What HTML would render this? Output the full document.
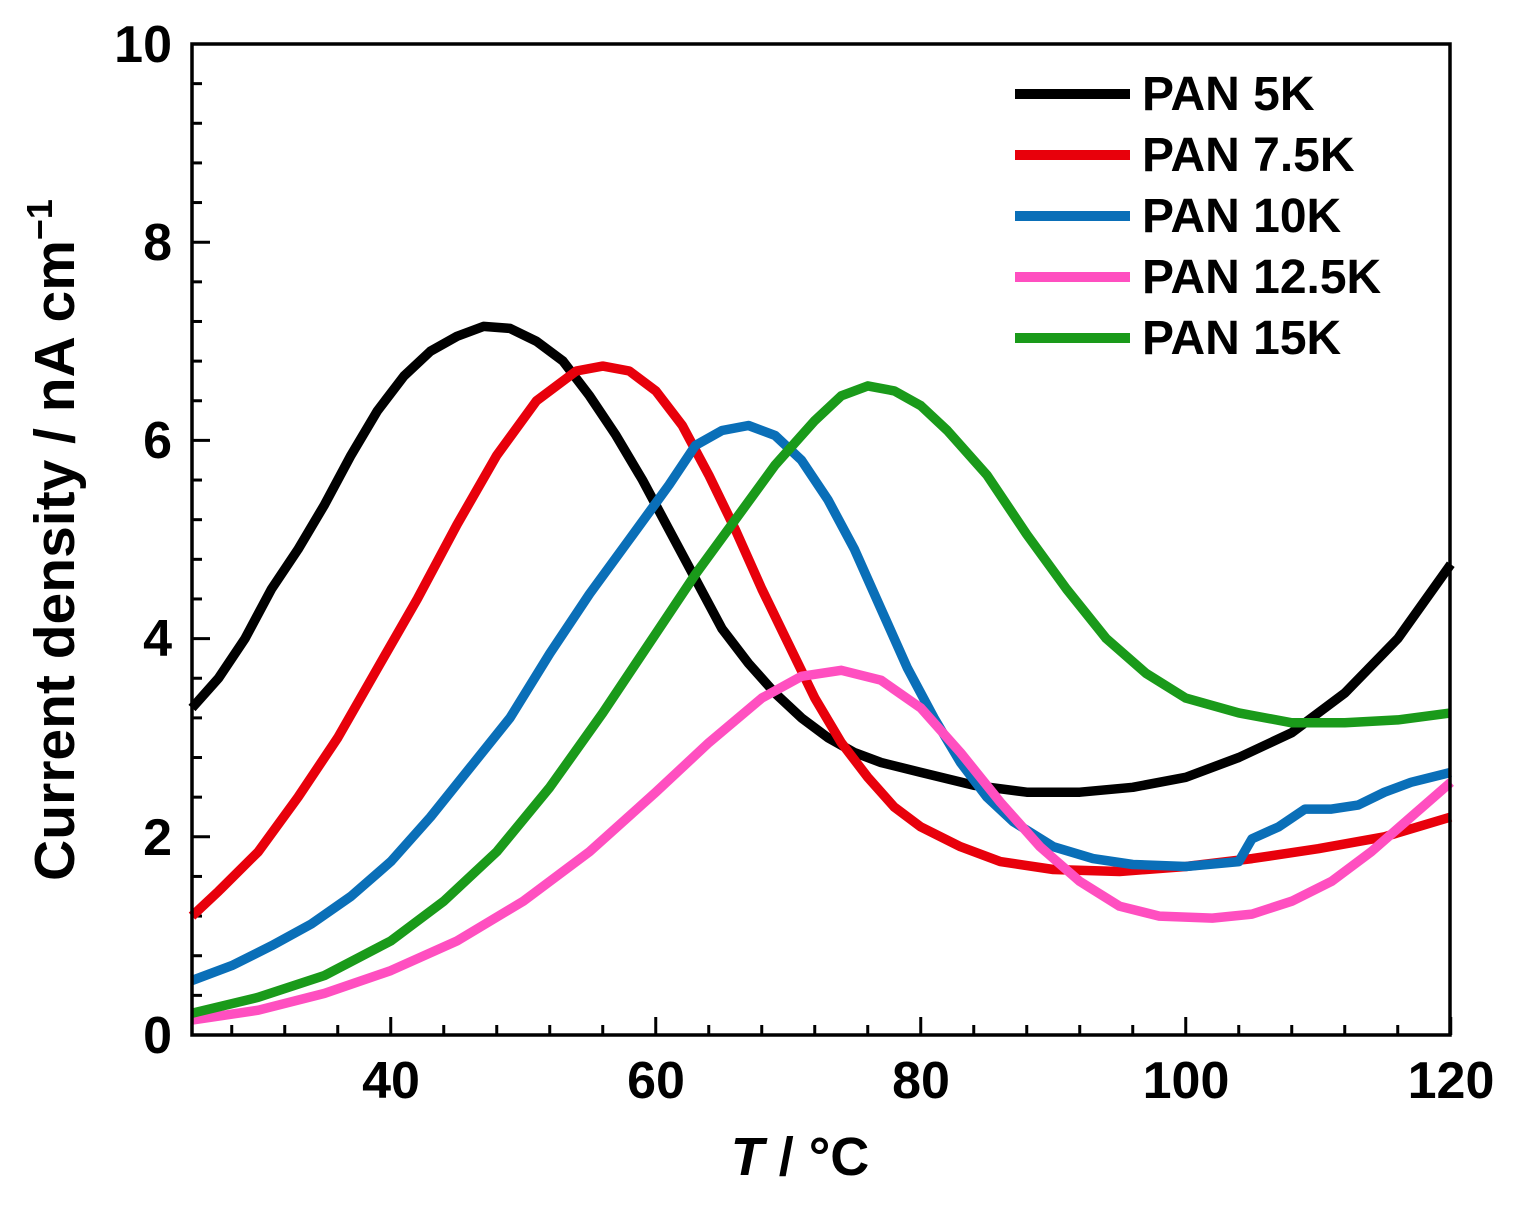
<!DOCTYPE html>
<html><head><style>body{margin:0;background:#fff}</style></head><body>
<svg id="s" width="1518" height="1204" xmlns="http://www.w3.org/2000/svg" font-family="Liberation Sans, Arial, sans-serif" font-weight="bold">
<g id="ticks" stroke="#000" stroke-width="3"></g>
<g id="lines" fill="none" stroke-width="9.5" stroke-linejoin="round"></g>
<rect x="192" y="44" width="1258" height="991" fill="none" stroke="#000" stroke-width="3.5"/>
<g font-size="52" text-anchor="end">
<text x="172" y="1053">0</text><text x="172" y="855">2</text><text x="172" y="656">4</text><text x="172" y="458">6</text><text x="172" y="260">8</text><text x="172" y="62">10</text>
</g>
<g font-size="52" text-anchor="middle">
<text x="391" y="1098">40</text><text x="656" y="1098">60</text><text x="921" y="1098">80</text><text x="1186" y="1098">100</text><text x="1451" y="1098">120</text>
</g>
<text x="800" y="1175" font-size="54" text-anchor="middle"><tspan font-style="italic">T</tspan> / °C</text>
<text transform="translate(74,540) rotate(-90)" font-size="57" text-anchor="middle">Current density / nA cm<tspan dy="-22" font-size="36">−1</tspan></text>
<g font-size="48" stroke-width="10">
<line x1="1015" y1="94" x2="1130" y2="94" stroke="#000"/><text x="1142" y="110">PAN 5K</text>
<line x1="1015" y1="155" x2="1130" y2="155" stroke="#e8000b"/><text x="1142" y="171">PAN 7.5K</text>
<line x1="1015" y1="216" x2="1130" y2="216" stroke="#0a6fb8"/><text x="1142" y="232">PAN 10K</text>
<line x1="1015" y1="277" x2="1130" y2="277" stroke="#ff4fc0"/><text x="1142" y="293">PAN 12.5K</text>
<line x1="1015" y1="338" x2="1130" y2="338" stroke="#1a9a1a"/><text x="1142" y="354">PAN 15K</text>
</g>
</svg>
<script>
const X=v=>192+(v-25)*13.25, Y=v=>1035-v*99.1;
const ns="http://www.w3.org/2000/svg";
const t=document.getElementById('ticks');
function L(g,a,b,c,d){const e=document.createElementNS(ns,'line');e.setAttribute('x1',a);e.setAttribute('y1',b);e.setAttribute('x2',c);e.setAttribute('y2',d);g.appendChild(e);}
for(let v=28;v<=120;v+=4){const maj=v%20==0;const x=X(v);L(t,x,1035,x,1035-(maj?18:10));}
for(let i=1;i<25;i++){const v=i*0.4;const maj=i%5==0;const y=Y(v);L(t,192,y,192+(maj?18:10),y);}
const D={
"#000":[[25,3.3],[27,3.6],[29,4.0],[31,4.5],[33,4.9],[35,5.35],[37,5.85],[39,6.3],[41,6.65],[43,6.9],[45,7.05],[47,7.15],[49,7.13],[51,7.0],[53,6.8],[55,6.45],[57,6.05],[59,5.6],[61,5.1],[63,4.6],[65,4.1],[67,3.75],[69,3.45],[71,3.2],[73,3.0],[75,2.85],[77,2.75],[80,2.65],[84,2.52],[88,2.45],[92,2.45],[96,2.5],[100,2.6],[104,2.8],[108,3.05],[112,3.45],[116,4.0],[120,4.75]],
"#e8000b":[[25,1.2],[27,1.45],[30,1.85],[33,2.4],[36,3.0],[39,3.7],[42,4.4],[45,5.15],[48,5.85],[51,6.4],[54,6.7],[56,6.75],[58,6.7],[60,6.5],[62,6.15],[64,5.65],[66,5.1],[68,4.5],[70,3.95],[72,3.4],[74,2.95],[76,2.6],[78,2.3],[80,2.1],[83,1.9],[86,1.75],[90,1.67],[95,1.65],[100,1.7],[105,1.78],[110,1.88],[115,2.0],[120,2.2]],
"#0a6fb8":[[25,0.55],[28,0.7],[31,0.9],[34,1.12],[37,1.4],[40,1.75],[43,2.2],[46,2.7],[49,3.2],[52,3.85],[55,4.45],[58,5.0],[61,5.55],[63,5.95],[65,6.1],[67,6.15],[69,6.05],[71,5.8],[73,5.4],[75,4.9],[77,4.3],[79,3.7],[81,3.2],[83,2.75],[85,2.4],[87,2.15],[90,1.9],[93,1.78],[96,1.72],[100,1.7],[104,1.75],[105,1.98],[107,2.1],[109,2.28],[111,2.28],[113,2.32],[115,2.45],[117,2.55],[120,2.65]],
"#ff4fc0":[[25,0.15],[30,0.25],[35,0.42],[40,0.65],[45,0.95],[50,1.35],[55,1.85],[60,2.45],[64,2.95],[68,3.4],[71,3.62],[74,3.68],[77,3.58],[80,3.3],[83,2.85],[86,2.35],[89,1.9],[92,1.55],[95,1.3],[98,1.2],[102,1.18],[105,1.22],[108,1.35],[111,1.55],[114,1.85],[117,2.2],[120,2.55]],
"#1a9a1a":[[25,0.22],[30,0.38],[35,0.6],[40,0.95],[44,1.35],[48,1.85],[52,2.5],[56,3.25],[60,4.05],[63,4.65],[66,5.2],[69,5.75],[72,6.2],[74,6.45],[76,6.55],[78,6.5],[80,6.35],[82,6.1],[85,5.65],[88,5.05],[91,4.5],[94,4.0],[97,3.65],[100,3.4],[104,3.25],[108,3.15],[112,3.15],[116,3.18],[120,3.25]]};
const g=document.getElementById('lines');
for(const c of ["#000","#e8000b","#0a6fb8","#ff4fc0","#1a9a1a"]){const p=document.createElementNS(ns,'path');p.setAttribute('d','M'+D[c].map(q=>X(q[0]).toFixed(1)+','+Y(q[1]).toFixed(1)).join('L'));p.setAttribute('stroke',c);g.appendChild(p);}
</script>
</body></html>
